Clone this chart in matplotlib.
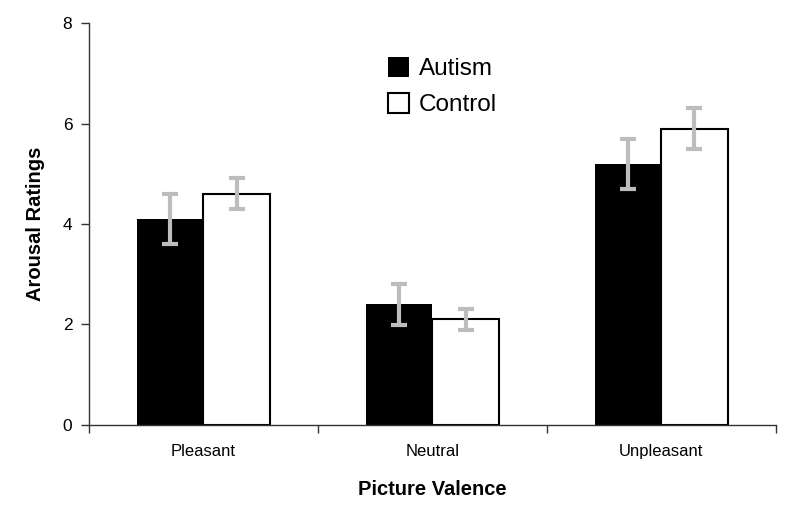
import matplotlib
matplotlib.use("Agg")
import matplotlib.pyplot as plt
import numpy as np

categories = ["Pleasant", "Neutral", "Unpleasant"]
autism = [4.1, 2.4, 5.2]
autism_err = [0.5, 0.41, 0.5]
control = [4.6, 2.1, 5.9]
control_err = [0.31, 0.21, 0.41]
yticks = [0, 2, 4, 6, 8]

plt.rcParams['font.family'] = ['Liberation Sans', 'DejaVu Sans']

fig = plt.figure(figsize=(7.94, 5.12), dpi=100)
ax = fig.add_axes([0.112, 0.170, 0.865, 0.785])

x = np.arange(len(categories))
w = 0.29
ekw = dict(ecolor='#bdbdbd', elinewidth=3, capsize=5.5, capthick=3)
ax.bar(x - w/2, autism, w, color='black', edgecolor='black', linewidth=0,
       yerr=autism_err, error_kw=ekw, label='Autism')
ax.bar(x + w/2, control, w, color='white', edgecolor='black', linewidth=1.5,
       yerr=control_err, error_kw=ekw, label='Control')

ax.set_xlim(-0.5, 2.5)
ax.set_ylim(0, 8)
ax.set_yticks(yticks)
ax.set_yticklabels([str(v) for v in yticks], fontsize=12.5)
ax.set_xticks(x)
ax.set_xticklabels(categories, fontsize=12)
ax.tick_params(axis='x', length=0, pad=14)
ax.set_xticks([-0.5, 0.5, 1.5, 2.5], minor=True)
ax.tick_params(axis='x', which='minor', length=6, width=1, color='#333333', direction='out')
ax.tick_params(axis='y', length=6, width=1, color='#333333', direction='out', pad=6)

for s in ['top', 'right']:
    ax.spines[s].set_visible(False)
for s in ['left', 'bottom']:
    ax.spines[s].set_color('#333333')
    ax.spines[s].set_linewidth(1)

ax.set_ylabel('Arousal Ratings', fontsize=14.5, fontweight='bold', labelpad=13)
ax.set_xlabel('Picture Valence', fontsize=14.5, fontweight='bold', labelpad=15)

leg = ax.legend(loc='upper left', bbox_to_anchor=(0.403, 0.97), frameon=False,
                fontsize=17.5, handlelength=0.9, handleheight=0.9,
                handletextpad=0.4, labelspacing=0.5)

fig.savefig('out.png', dpi=100)
